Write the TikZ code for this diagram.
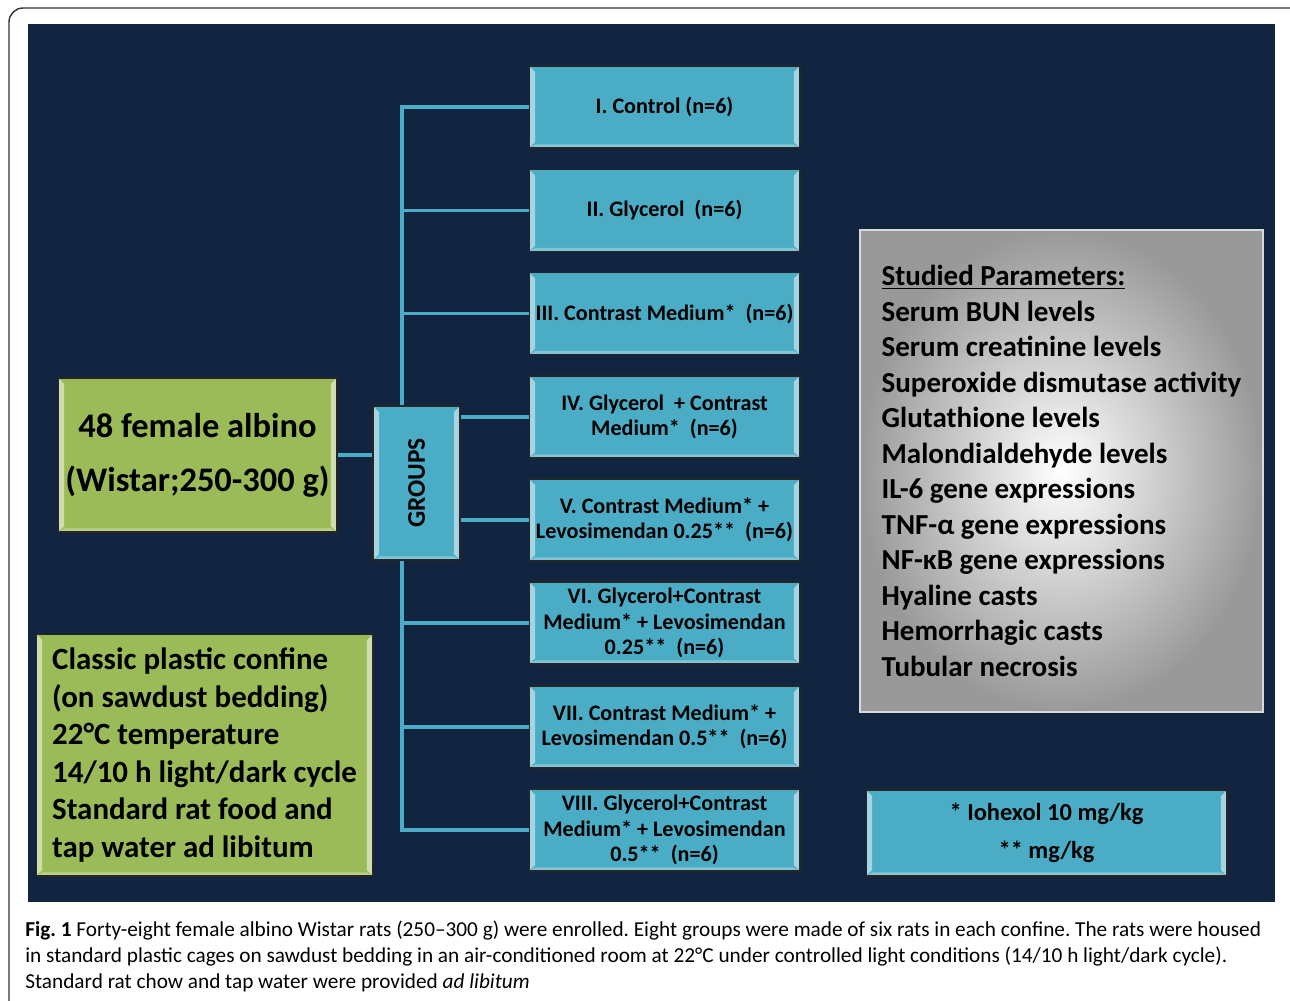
\documentclass[tikz,border=0pt]{standalone}
\usepackage{fontspec}
\setmainfont{Carlito}
\usetikzlibrary{calc,backgrounds}

\definecolor{navy}{RGB}{18,37,64}
\definecolor{aqua}{RGB}{75,172,198}
\definecolor{leafgreen}{RGB}{155,187,89}

\begin{document}
\frenchspacing
\begin{tikzpicture}[x=0.02cm, y=-0.02cm,
    bevel/.style={path picture={
        \coordinate (sw) at (path picture bounding box.south west);
        \coordinate (ne) at (path picture bounding box.north east);
        \fill[white, opacity=.5] (sw) -- (sw |- ne) -- ($(sw |- ne)+(3.5pt,-3.5pt)$) -- ($(sw)+(3.5pt,3.5pt)$) -- cycle;
        \fill[white, opacity=.5] (ne) -- (ne |- sw) -- ($(ne |- sw)+(-3.5pt,3.5pt)$) -- ($(ne)+(-3.5pt,-3.5pt)$) -- cycle;
        \fill[white, opacity=.3] (sw) -- (ne |- sw) -- ($(ne |- sw)+(-3.5pt,2pt)$) -- ($(sw)+(3.5pt,2pt)$) -- cycle;
    }},
    box/.style={rectangle, draw=black!85, line width=0.6pt, bevel, text=black},
    grp/.style={box, fill=aqua, minimum width=5.42cm, minimum height=1.64cm,
        align=center, inner sep=1pt, font=\bfseries\fontsize{12.6}{14.5}\selectfont},
    link/.style={aqua, line width=2.2pt},
    capline/.style={anchor=base west, inner sep=0pt, font=\fontsize{12.1}{14}\selectfont},
]
    \useasboundingbox (0,0) rectangle (1290,1000);
    \clip (0,0) rectangle (1290,1000);
    \draw [black!80, line width=0.8pt, rounded corners=8pt] (9,8) rectangle (1320,1040);

    % the eight groups
    \node [grp] (g1) at (664.5,107) {I. Control (n=6)};
    \node [grp] (g2) at (664.5,210.5) {II. Glycerol\ \ (n=6)};
    \node [grp] (g3) at (664.5,313.5) {III. Contrast Medium*\ \ (n=6)};
    \node [grp] (g4) at (664.5,417) {IV. Glycerol\ \ + Contrast\\ Medium*\ \ (n=6)};
    \node [grp] (g5) at (664.5,520) {V. Contrast Medium* +\\ Levosimendan 0.25**\ \ (n=6)};
    \node [grp] (g6) at (664.5,623) {VI. Glycerol+Contrast\\ Medium* + Levosimendan\\ 0.25**\ \ (n=6)};
    \node [grp] (g7) at (664.5,727) {VII. Contrast Medium* +\\ Levosimendan 0.5**\ \ (n=6)};
    \node [grp] (g8) at (664.5,830) {VIII. Glycerol+Contrast\\ Medium* + Levosimendan\\ 0.5**\ \ (n=6)};

    \node [box, fill=aqua, minimum width=1.74cm, minimum height=3.08cm,
        font=\bfseries\fontsize{14.5}{16}\selectfont] (groups) at (416.5,483) {\rotatebox{90}{GROUPS}};

    \node [box, fill=leafgreen, minimum width=5.58cm, minimum height=3.08cm, align=center,
        font=\bfseries\fontsize{19.6}{30.6}\selectfont] (rats) at (197.5,455)
        {48 female albino\\ (Wistar;250-300 g)};

    \node [box, fill=leafgreen, minimum width=6.74cm, minimum height=4.84cm, align=left,
        font=\bfseries\fontsize{17.6}{21.3}\selectfont] (housing) at (204.5,755)
        {Classic plastic confine\\ (on sawdust bedding)\\ 22°C temperature\\
         14/10 h light/dark cycle\\ Standard rat food and\\ tap water ad libitum};

    \node [rectangle, draw=white!85!black, line width=0.8pt, shading=radial,
        inner color=white, outer color=black!40, minimum width=8.06cm, minimum height=9.64cm,
        align=left, font=\bfseries\fontsize{16.5}{20.2}\selectfont] (params) at (1061.5,471)
        {\underline{Studied Parameters:}\\ Serum BUN levels\\ Serum creatinine levels\\
         Superoxide dismutase activity\\ Glutathione levels\\ Malondialdehyde levels\\
         IL-6 gene expressions\\ TNF-α gene expressions\\ NF-κB gene expressions\\
         Hyaline casts\\ Hemorrhagic casts\\ Tubular necrosis};

    \node [box, fill=aqua, minimum width=7.22cm, minimum height=1.72cm, align=center,
        font=\bfseries\fontsize{13.9}{21.5}\selectfont] (note) at (1046.5,833)
        {* Iohexol 10 mg/kg\\ ** mg/kg};

    \begin{pgfonlayer}{background}
        \fill [navy] (28,24) rectangle (1275,902);
        \coordinate (trunk) at (402,483);
        \draw [link] (g1.west) -| (trunk |- g8.west) -- (g8.west);
        \foreach \g in {g2,g3,g4,g5,g6,g7}
            \draw [link] (trunk |- \g.west) -- (\g.west);
        \draw [link] (rats.east) -- (rats.east -| groups.west);
    \end{pgfonlayer}

    % caption
    \node [capline] (cap1) at (25,936) {\textbf{Fig. 1} Forty-eight female albino Wistar rats (250–300 g) were enrolled. Eight groups were made of six rats in each confine. The rats were housed};
    \node [capline] (cap2) at (25,962) {in standard plastic cages on sawdust bedding in an air-conditioned room at 22°C under controlled light conditions (14/10 h light/dark cycle).};
    \node [capline] (cap3) at (25,988) {Standard rat chow and tap water were provided \textit{ad libitum}};
\end{tikzpicture}
\end{document}
